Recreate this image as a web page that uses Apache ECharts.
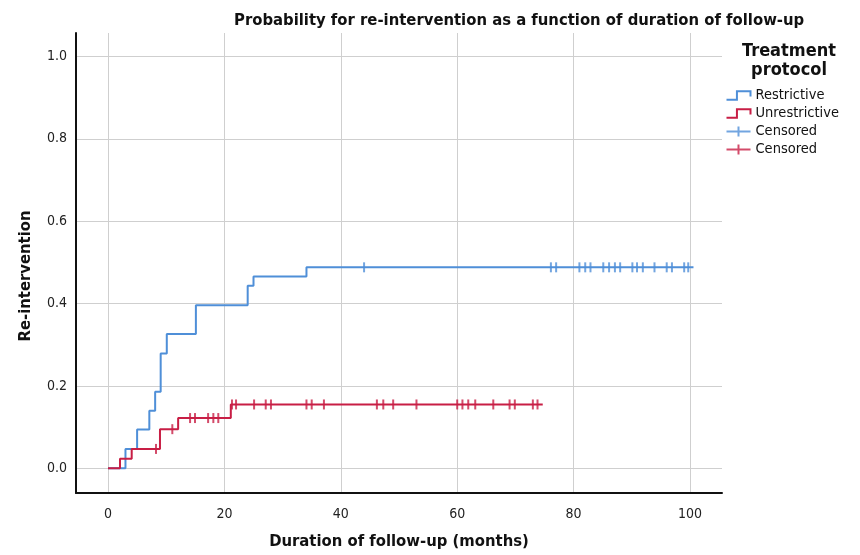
<!DOCTYPE html>
<html>
<head>
<meta charset="utf-8">
<script src="https://cdn.jsdelivr.net/npm/echarts@6/dist/echarts.min.js"></script>
<style>
  html, body { margin: 0; padding: 0; background: #fff; }
  #chart { width: 860px; height: 555px; }
</style>
</head>
<body>
<div id="chart"></div>
<script>
// step curves (time in months, cumulative probability)
var restrictiveTimes = [0, 3.0, 5.0, 7.1, 8.1, 9.05, 10.1, 15.1, 24.0, 25.0, 34.1, 100.6];
var restrictiveProb  = [0, 0.047, 0.094, 0.140, 0.186, 0.279, 0.326, 0.396, 0.443, 0.466, 0.488, 0.488];
var unrestrictiveTimes = [0, 2.06, 4.07, 8.93, 12.05, 21.1, 74.7];
var unrestrictiveProb  = [0, 0.023, 0.047, 0.095, 0.122, 0.155, 0.155];

// censored observations
var restrictiveCensored = [44.0, 76.1, 77.0, 81.0, 82.0, 82.9, 85.1, 86.1, 87.1, 88.0,
    90.1, 90.9, 91.9, 93.9, 96.0, 96.9, 99.0, 99.7];
var unrestrictiveCensored = [8.25, 11.05, 14.1, 14.95, 17.2, 18.1, 18.95, 21.3, 22.0, 25.1,
    27.1, 28.0, 34.1, 35.0, 37.1, 46.2, 47.3, 49.0, 53.0, 60.0, 60.9, 61.9, 63.1, 66.2,
    69.0, 69.9, 73.0, 73.8];

var xTicks = [0, 20, 40, 60, 80, 100];
var yTicks = [0, 0.2, 0.4, 0.6, 0.8, 1.0];

var blue = '#4f8fd8';
var red = '#c81e45';

function pairs(xs, ys) {
    var out = [];
    for (var i = 0; i < xs.length; i++) out.push([xs[i], ys[i]]);
    return out;
}
// value of the step curve at time t
function levelAt(xs, ys, t) {
    var v = ys[0];
    for (var i = 0; i < xs.length; i++) {
        if (xs[i] <= t) v = ys[i];
    }
    return v;
}
function censorPoints(times, xs, ys) {
    return times.map(function (t) { return [t, levelAt(xs, ys, t)]; });
}

var chart = echarts.init(document.getElementById('chart'));
var font = 'DejaVu Sans Condensed';

var option = {
    animation: false,
    backgroundColor: '#fff',
    title: [{
        text: 'Probability for re-intervention as a function of duration of follow-up',
        left: 229,
        top: 7,
        textStyle: { fontFamily: font, fontSize: 16.5, fontWeight: 'bold', color: '#111' }
    }, {
        text: 'Treatment\nprotocol',
        left: 784,
        top: 37,
        textAlign: 'center',
        textStyle: { fontFamily: font, fontSize: 18, fontWeight: 'bold', color: '#111', lineHeight: 19 }
    }],
    legend: {
        orient: 'vertical',
        left: 724,
        top: 88,
        padding: 0,
        itemWidth: 24,
        itemHeight: 10,
        itemGap: 3,
        selectedMode: false,
        textStyle: { fontFamily: font, fontSize: 14.5, color: '#111' },
        formatter: function (name) {
            return name.indexOf('Censored') === 0 ? 'Censored' : name;
        },
        data: [
            { name: 'Restrictive', icon: 'path://M0,9 L10,9 L10,1 L23,1 L23,6',
              itemStyle: { color: 'none', borderColor: blue, borderWidth: 2 } },
            { name: 'Unrestrictive', icon: 'path://M0,9 L10,9 L10,1 L23,1 L23,6',
              itemStyle: { color: 'none', borderColor: red, borderWidth: 2 } },
            { name: 'Censored (Restrictive)', icon: 'path://M0,5 L24,5 M12,0 L12,10',
              itemStyle: { color: 'none', borderColor: blue, borderWidth: 2 } },
            { name: 'Censored (Unrestrictive)', icon: 'path://M0,5 L24,5 M12,0 L12,10',
              itemStyle: { color: 'none', borderColor: red, borderWidth: 2 } }
        ]
    },
    grid: { left: 76, right: 138, top: 33, bottom: 56 },
    xAxis: {
        type: 'value',
        min: -5.5,
        max: 105.5,
        name: 'Duration of follow-up (months)',
        nameLocation: 'middle',
        nameGap: 40,
        nameTextStyle: { fontFamily: font, fontSize: 16.5, fontWeight: 'bold', color: '#111' },
        axisLine: { show: true, onZero: false, lineStyle: { color: '#111', width: 2 } },
        axisTick: { show: false, customValues: xTicks },
        axisLabel: { customValues: xTicks, fontFamily: font, fontSize: 14, color: '#222', margin: 14 },
        splitLine: { show: true, lineStyle: { color: '#cfcfcf', width: 1 } }
    },
    yAxis: {
        type: 'value',
        min: -0.06,
        max: 1.057,
        name: 'Re-intervention',
        nameLocation: 'middle',
        nameGap: 42,
        nameTextStyle: { fontFamily: font, fontSize: 16.5, fontWeight: 'bold', color: '#111', padding: [0, 26, 0, 0] },
        axisLine: { show: true, onZero: false, lineStyle: { color: '#111', width: 2 } },
        axisTick: { show: false, customValues: yTicks },
        axisLabel: {
            customValues: yTicks, fontFamily: font, fontSize: 14, color: '#222', margin: 9,
            formatter: function (v) { return v.toFixed(1); }
        },
        splitLine: { show: true, lineStyle: { color: '#cfcfcf', width: 1 } }
    },
    series: [{
        name: 'Restrictive',
        type: 'line',
        step: 'end',
        showSymbol: false,
        color: blue,
        lineStyle: { color: blue, width: 2 },
        data: pairs(restrictiveTimes, restrictiveProb),
        z: 2
    }, {
        name: 'Censored (Restrictive)',
        type: 'scatter',
        symbol: 'rect',
        symbolSize: [2, 10],
        itemStyle: { color: blue },
        data: censorPoints(restrictiveCensored, restrictiveTimes, restrictiveProb),
        z: 3
    }, {
        name: 'Unrestrictive',
        type: 'line',
        step: 'end',
        showSymbol: false,
        color: red,
        lineStyle: { color: red, width: 2 },
        data: pairs(unrestrictiveTimes, unrestrictiveProb),
        z: 4
    }, {
        name: 'Censored (Unrestrictive)',
        type: 'scatter',
        symbol: 'rect',
        symbolSize: [2, 10],
        itemStyle: { color: red },
        data: censorPoints(unrestrictiveCensored, unrestrictiveTimes, unrestrictiveProb),
        z: 5
    }]
};

chart.setOption(option);
</script>
</body>
</html>
